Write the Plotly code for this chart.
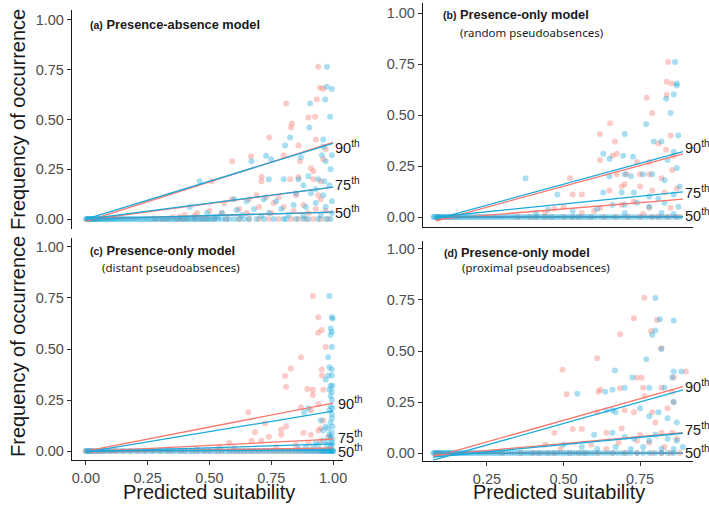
import plotly.graph_objects as go

# ---------------- data ----------------
RED = "#F8766D"
BLUE = "#1BA9DB"

# Panel (a) presence-absence model: (predicted suitability, frequency of occurrence)
a_red = [(0.94,0.765),(0.947,0.66),(0.96,0.655),(0.934,0.60),(0.81,0.58),(0.927,0.514),(0.833,0.48),
         (0.741,0.41),(0.93,0.40),(0.86,0.37),(0.592,0.29),(0.668,0.316),(0.80,0.32),(0.866,0.29),
         (0.97,0.35),(0.91,0.255),(0.92,0.24),(0.711,0.213),(0.71,0.19),(0.826,0.20),(0.86,0.21),
         (0.92,0.20),(0.95,0.19),(0.509,0.19),(0.69,0.12),(0.59,0.10),(0.66,0.10),(0.73,0.11),
         (0.78,0.11),(0.85,0.12),(0.94,0.12),(0.95,0.10),(0.56,0.08),(0.62,0.05),(0.70,0.06),
         (0.76,0.08),(0.80,0.06),(0.88,0.07),(0.93,0.05),(0.50,0.04),(0.45,0.03),(0.40,0.02),
         (0.55,0.03),(0.65,0.03),(0.75,0.03),(0.84,0.04),(0.90,0.03),(0.97,0.04),(0.38,0.01),
         (0.44,0.015),(0.35,0.01),(0.83,0.46),(0.90,0.51),(0.96,0.30)]
a_blue = [(0.975,0.765),(0.974,0.665),(0.995,0.653),(0.968,0.60),(0.907,0.58),(0.988,0.514),(0.904,0.46),
          (0.826,0.41),(0.96,0.40),(0.806,0.37),(0.96,0.365),(0.67,0.29),(0.729,0.318),(0.75,0.30),
          (0.87,0.31),(0.955,0.32),(0.995,0.32),(0.97,0.29),(0.99,0.25),(0.46,0.19),(0.74,0.20),
          (0.80,0.20),(0.86,0.20),(0.90,0.215),(0.94,0.20),(0.965,0.19),(0.985,0.17),(0.60,0.10),
          (0.65,0.09),(0.72,0.10),(0.77,0.09),(0.85,0.13),(0.91,0.13),(0.96,0.12),(0.995,0.09),
          (0.42,0.06),(0.49,0.03),(0.55,0.03),(0.61,0.045),(0.68,0.05),(0.74,0.03),(0.79,0.05),
          (0.84,0.07),(0.89,0.06),(0.93,0.08),(0.97,0.06),(0.995,0.03),(0.53,0.01),(0.63,0.02),
          (0.71,0.015),(0.82,0.02),(0.88,0.015),(0.95,0.02),(0.88,0.17),(0.93,0.15)]
a_red_zero_x = [0.01,0.03,0.28,0.31,0.33,0.37,0.39,0.41,0.44,0.47,0.49,0.52,0.57,0.62,0.66,0.70,0.74,
                0.78,0.83,0.86,0.89,0.92,0.95,0.98]
a_blue_zero_x = [0.0,0.004,0.008,0.012,0.016,0.02,0.024,0.028,0.032,0.036,0.04,0.045,0.05,0.055,0.06,
                 0.066,0.072,0.078,0.084,0.09,0.097,0.104,0.111,0.118,0.125,0.133,0.141,0.149,0.157,
                 0.165,0.174,0.183,0.192,0.201,0.21,0.22,0.23,0.24,0.25,0.26,0.27,0.28,0.29,0.30,0.31,
                 0.32,0.33,0.34,0.35,0.36,0.37,0.38,0.39,0.40,0.41,0.42,0.43,0.44,0.45,0.46,0.47,0.48,
                 0.49,0.50,0.51,0.52,0.535,0.55,0.565,0.58,0.60,0.62,0.64,0.66,0.69,0.72,0.76,0.80,
                 0.81,0.85,0.88,0.90,0.94,0.97,0.99]

# Panel (b) presence-only, random pseudoabsences
b_red = [(0.842,0.76),(0.837,0.663),(0.853,0.655),(0.837,0.598),(0.772,0.584),(0.79,0.51),(0.652,0.459),
         (0.619,0.407),(0.668,0.37),(0.85,0.40),(0.674,0.31),(0.619,0.28),(0.835,0.33),(0.521,0.19),
         (0.674,0.21),(0.706,0.21),(0.75,0.21),(0.78,0.21),(0.82,0.19),(0.855,0.23),(0.74,0.27),
         (0.78,0.27),(0.53,0.11),(0.50,0.05),(0.56,0.11),(0.65,0.13),(0.69,0.15),(0.75,0.15),
         (0.79,0.13),(0.83,0.12),(0.87,0.14),(0.44,0.02),(0.56,0.02),(0.62,0.045),(0.69,0.06),
         (0.73,0.075),(0.78,0.045),(0.85,0.045),(0.76,0.015),(0.66,0.30),(0.70,0.16),(0.81,0.36),
         (0.86,0.30),(0.60,0.03),(0.47,0.04)]
b_blue = [(0.864,0.76),(0.87,0.655),(0.87,0.645),(0.86,0.60),(0.835,0.58),(0.85,0.51),(0.77,0.455),
          (0.70,0.407),(0.875,0.40),(0.795,0.37),(0.82,0.37),(0.63,0.31),(0.65,0.285),(0.695,0.30),
          (0.727,0.295),(0.86,0.32),(0.376,0.19),(0.65,0.20),(0.70,0.21),(0.72,0.20),(0.76,0.21),
          (0.79,0.21),(0.83,0.18),(0.87,0.24),(0.48,0.11),(0.63,0.12),(0.69,0.12),(0.73,0.12),
          (0.78,0.10),(0.81,0.09),(0.86,0.11),(0.41,0.02),(0.45,0.035),(0.53,0.03),(0.61,0.04),
          (0.66,0.06),(0.70,0.06),(0.74,0.07),(0.78,0.05),(0.83,0.07),(0.875,0.05),(0.70,0.02),
          (0.82,0.02),(0.86,0.015),(0.88,0.15),(0.84,0.28)]
b_red_zero_x = [0.09,0.35,0.39,0.41,0.44,0.46,0.50,0.53,0.55,0.59,0.63,0.67,0.71,0.75,0.79,0.81,0.84,0.87]
b_blue_zero_x = [0.075,0.079,0.083,0.087,0.091,0.095,0.099,0.103,0.108,0.113,0.118,0.123,0.128,0.133,
                 0.139,0.145,0.151,0.157,0.163,0.17,0.177,0.184,0.191,0.198,0.206,0.214,0.222,0.23,
                 0.238,0.246,0.255,0.264,0.273,0.282,0.291,0.30,0.31,0.32,0.33,0.34,0.35,0.36,0.37,
                 0.38,0.39,0.40,0.41,0.42,0.43,0.44,0.45,0.46,0.47,0.48,0.49,0.50,0.51,0.52,0.53,0.54,
                 0.55,0.56,0.57,0.58,0.59,0.60,0.612,0.625,0.638,0.65,0.663,0.676,0.69,0.704,0.718,
                 0.732,0.746,0.76,0.775,0.79,0.805,0.82,0.835,0.85,0.865,0.88]

# Panel (c) presence-only, distant pseudoabsences
c_red = [(0.918,0.76),(0.94,0.655),(0.94,0.58),(0.954,0.593),(0.87,0.459),(0.829,0.405),(0.806,0.368),
         (0.81,0.315),(0.896,0.304),(0.918,0.30),(0.954,0.40),(0.955,0.37),(0.918,0.275),(0.87,0.214),
         (0.91,0.20),(0.94,0.23),(0.657,0.19),(0.684,0.092),(0.725,0.136),(0.79,0.106),(0.81,0.12),
         (0.79,0.08),(0.74,0.07),(0.71,0.05),(0.67,0.05),(0.88,0.09),(0.91,0.08),(0.94,0.10),
         (0.95,0.11),(0.96,0.15),(0.58,0.04),(0.54,0.02),(0.97,0.51),(0.96,0.30),(0.90,0.04),
         (0.85,0.03),(0.95,0.05),(0.98,0.07),(0.60,0.015),(0.45,0.01),(0.77,0.02)]
c_blue = [(0.985,0.76),(0.995,0.655),(0.998,0.65),(0.99,0.60),(0.995,0.585),(0.99,0.57),(0.995,0.51),
          (0.98,0.46),(0.985,0.41),(0.995,0.40),(0.98,0.37),(0.995,0.37),(0.99,0.32),(0.997,0.32),
          (0.985,0.30),(0.995,0.29),(0.995,0.25),(0.99,0.22),(0.997,0.21),(0.985,0.20),(0.883,0.19),
          (0.90,0.21),(0.95,0.15),(0.97,0.12),(0.96,0.10),(0.98,0.11),(0.995,0.16),(0.99,0.14),
          (0.997,0.12),(0.995,0.09),(0.99,0.07),(0.997,0.06),(0.98,0.05),(0.96,0.05),(0.94,0.03),
          (0.92,0.02),(0.995,0.03),(0.99,0.02),(0.997,0.04),(0.975,0.03),(0.985,0.08),(0.995,0.18),
          (0.99,0.27),(0.97,0.35),(0.93,0.04),(0.89,0.02),(0.86,0.01)]
c_red_zero_x = [0.0,0.02,0.03,0.05,0.07,0.1,0.12,0.15,0.18,0.21,0.24,0.27,0.30,0.33,0.35,0.38,0.40,
                0.43,0.45,0.48,0.50,0.53,0.55,0.58,0.60,0.62,0.64,0.66,0.68,0.70,0.72,0.74,0.76,0.78,
                0.80,0.82,0.84,0.86,0.88,0.90,0.92,0.94,0.96]
c_blue_zero_x = [0.0,0.005,0.01,0.015,0.02,0.03,0.04,0.05,0.06,0.07,0.08,0.09,0.1,0.115,0.13,0.145,
                 0.16,0.175,0.19,0.205,0.22,0.235,0.25,0.265,0.28,0.295,0.31,0.325,0.34,0.355,0.37,
                 0.385,0.4,0.415,0.43,0.445,0.46,0.475,0.49,0.505,0.52,0.535,0.55,0.565,0.58,0.595,
                 0.61,0.625,0.64,0.655,0.67,0.685,0.7,0.715,0.73,0.745,0.76,0.775,0.79,0.805,0.82,
                 0.835,0.85,0.865,0.88,0.89,0.9,0.91,0.92,0.93,0.94,0.95,0.955,0.96,0.965,0.97,0.975,
                 0.98,0.985,0.99,0.993,0.996,0.999,1.0]

# Panel (d) presence-only, proximal pseudoabsences
d_red = [(0.764,0.761),(0.805,0.652),(0.73,0.66),(0.786,0.598),(0.819,0.513),(0.685,0.582),(0.61,0.464),
         (0.497,0.408),(0.739,0.369),(0.755,0.369),(0.51,0.288),(0.614,0.30),(0.62,0.31),(0.685,0.317),
         (0.76,0.32),(0.765,0.28),(0.859,0.25),(0.855,0.30),(0.82,0.32),(0.73,0.20),(0.79,0.20),
         (0.61,0.20),(0.53,0.118),(0.47,0.10),(0.56,0.118),(0.64,0.10),(0.69,0.12),(0.75,0.09),
         (0.82,0.10),(0.855,0.10),(0.44,0.04),(0.49,0.02),(0.59,0.04),(0.68,0.05),(0.74,0.06),
         (0.78,0.05),(0.83,0.03),(0.87,0.07),(0.90,0.40),(0.86,0.37),(0.70,0.21),(0.64,0.02),
         (0.80,0.15),(0.84,0.22)]
d_blue = [(0.80,0.76),(0.815,0.655),(0.86,0.65),(0.79,0.58),(0.80,0.60),(0.82,0.51),(0.77,0.46),
          (0.668,0.405),(0.86,0.40),(0.885,0.40),(0.545,0.29),(0.636,0.30),(0.66,0.31),(0.70,0.32),
          (0.78,0.32),(0.83,0.32),(0.855,0.37),(0.725,0.37),(0.64,0.21),(0.66,0.21),(0.67,0.20),
          (0.78,0.18),(0.84,0.17),(0.87,0.15),(0.60,0.09),(0.66,0.10),(0.70,0.08),(0.73,0.07),
          (0.78,0.06),(0.80,0.09),(0.84,0.07),(0.87,0.06),(0.50,0.04),(0.56,0.03),(0.61,0.02),
          (0.67,0.03),(0.72,0.02),(0.76,0.03),(0.82,0.02),(0.86,0.02),(0.89,0.03),(0.75,0.22),
          (0.81,0.20),(0.86,0.25)]
d_red_zero_x = [0.09,0.3,0.36,0.40,0.42,0.45,0.47,0.52,0.55,0.57,0.61,0.66,0.70,0.74,0.79,0.82,0.85,0.88]
d_blue_zero_x = [0.075,0.079,0.083,0.087,0.091,0.095,0.099,0.103,0.108,0.113,0.118,0.123,0.128,0.133,
                 0.139,0.145,0.151,0.157,0.163,0.17,0.177,0.184,0.191,0.198,0.206,0.214,0.222,0.23,
                 0.238,0.246,0.255,0.264,0.273,0.282,0.291,0.30,0.31,0.32,0.33,0.34,0.35,0.36,0.37,
                 0.38,0.39,0.40,0.41,0.42,0.43,0.44,0.45,0.46,0.47,0.48,0.49,0.50,0.51,0.52,0.53,0.54,
                 0.55,0.56,0.57,0.58,0.59,0.60,0.615,0.63,0.645,0.66,0.675,0.69,0.705,0.72,0.74,0.76,
                 0.78,0.80,0.82,0.84,0.86]

# Quantile regression lines (90th, 75th, 50th): start/end y at line x-extent
quantiles = ["90", "75", "50"]
a_line_x = [0.0, 1.0]
a_red_start = [-0.012, -0.005, 0.0];  a_red_end = [0.385, 0.16, 0.035]
a_blue_start = [0.0, 0.0, 0.0];       a_blue_end = [0.38, 0.16, 0.035]
b_line_x = [0.083, 0.89]
b_red_start = [-0.02, -0.012, 0.0];   b_red_end = [0.31, 0.088, 0.003]
b_blue_start = [-0.01, 0.0, 0.0];     b_blue_end = [0.32, 0.123, 0.0]
c_line_x = [0.0, 1.0]
c_red_start = [0.0, -0.003, -0.005];  c_red_end = [0.235, 0.058, 0.015]
c_blue_start = [-0.005, -0.003, 0.0]; c_blue_end = [0.195, 0.035, 0.005]
d_line_x = [0.074, 0.89]
d_red_start = [-0.02, -0.012, 0.0];   d_red_end = [0.325, 0.10, 0.0]
d_blue_start = [-0.035, -0.02, 0.0];  d_blue_end = [0.31, 0.097, 0.0]

y_ticks = [0, 0.25, 0.5, 0.75, 1.0]
c_x_ticks = [0, 0.25, 0.5, 0.75, 1.0]
d_x_ticks = [0.25, 0.5, 0.75]

# ---------------- figure ----------------
W, H = 709, 513
def PX(p): return p / W
def PY(p): return 1 - p / H

fig = go.Figure()

panels = [
    ("x", "y", a_red, a_blue, a_red_zero_x, a_blue_zero_x, a_line_x,
     a_red_start, a_red_end, a_blue_start, a_blue_end),
    ("x2", "y2", b_red, b_blue, b_red_zero_x, b_blue_zero_x, b_line_x,
     b_red_start, b_red_end, b_blue_start, b_blue_end),
    ("x3", "y3", c_red, c_blue, c_red_zero_x, c_blue_zero_x, c_line_x,
     c_red_start, c_red_end, c_blue_start, c_blue_end),
    ("x4", "y4", d_red, d_blue, d_red_zero_x, d_blue_zero_x, d_line_x,
     d_red_start, d_red_end, d_blue_start, d_blue_end),
]

marker_common = dict(size=6, opacity=0.38, line=dict(width=0))
for (xa, ya, red, blue, rz, bz, lx, rs, re, bs, be) in panels:
    fig.add_trace(go.Scatter(x=[p[0] for p in red] + rz, y=[p[1] for p in red] + [0] * len(rz),
                             mode="markers", marker=dict(color=RED, **marker_common),
                             xaxis=xa, yaxis=ya, showlegend=False, hoverinfo="skip", cliponaxis=False))
    fig.add_trace(go.Scatter(x=[p[0] for p in blue] + bz, y=[p[1] for p in blue] + [0] * len(bz),
                             mode="markers", marker=dict(color=BLUE, **marker_common),
                             xaxis=xa, yaxis=ya, showlegend=False, hoverinfo="skip", cliponaxis=False))
    for i in range(len(quantiles)):
        fig.add_trace(go.Scatter(x=lx, y=[rs[i], re[i]], mode="lines",
                                 line=dict(color=RED, width=1.3), xaxis=xa, yaxis=ya,
                                 showlegend=False, hoverinfo="skip", cliponaxis=False))
    for i in range(len(quantiles)):
        fig.add_trace(go.Scatter(x=lx, y=[bs[i], be[i]], mode="lines",
                                 line=dict(color=BLUE, width=1.3), xaxis=xa, yaxis=ya,
                                 showlegend=False, hoverinfo="skip", cliponaxis=False))

tickfont = dict(family="Liberation Sans, Arial, sans-serif", size=14.5, color="#4D4D4D")
ax_common = dict(showgrid=False, zeroline=False, linecolor="#1a1a1a", linewidth=1.4, automargin=False,
                 tickcolor="#333333", ticklen=4, tickwidth=1.2, tickfont=tickfont)

xa_dom = [PX(72), PX(343)]
xb_dom = [PX(423), PX(693)]
fig.update_layout(
    template="none",
    width=W, height=H, margin=dict(l=0, r=0, t=0, b=0, pad=0, autoexpand=False),
    paper_bgcolor="white", plot_bgcolor="white",
    xaxis=dict(domain=xa_dom, range=[-0.056, 1.04], anchor="y", showline=False,
               showticklabels=False, ticks="", **ax_common),
    yaxis=dict(domain=[PY(229), PY(10)], range=[-0.05, 1.05], anchor="x", showline=True, ticks="outside",
               tickvals=y_ticks, tickformat=".2f", **ax_common),
    xaxis2=dict(domain=xb_dom, range=[0.041, 0.923], anchor="y2", showline=True,
                showticklabels=False, ticks="", **ax_common),
    yaxis2=dict(domain=[PY(227.2), PY(2.8)], range=[-0.05, 1.05], anchor="x2", showline=True,
                ticks="outside", tickvals=y_ticks, tickformat=".2f", **ax_common),
    xaxis3=dict(domain=xa_dom, range=[-0.056, 1.04], anchor="y3", showline=True, ticks="outside",
                tickvals=c_x_ticks, tickformat=".2f", **ax_common),
    yaxis3=dict(domain=[PY(460.2), PY(237.8)], range=[-0.045, 1.045], anchor="x3", showline=True,
                ticks="outside", tickvals=y_ticks, tickformat=".2f", **ax_common),
    xaxis4=dict(domain=xb_dom, range=[0.041, 0.923], anchor="y4", showline=True, ticks="outside",
                tickvals=d_x_ticks, tickformat=".2f", **ax_common),
    yaxis4=dict(domain=[PY(461.2), PY(240.8)], range=[-0.04, 1.04], anchor="x4", showline=True,
                ticks="outside", tickvals=y_ticks, tickformat=".2f", **ax_common),
)

ann = []
title_font = dict(family="Liberation Sans, Arial, sans-serif", size=12.8, color="#1a1a1a")
sub_font = dict(family="Noto Sans, sans-serif", size=11.5, color="#1a1a1a")
titles = [("(a)", "Presence-absence model", None, 88, 24, None),
          ("(b)", "Presence-only model", "(random pseudoabsences)", 441, 15, (458, 32)),
          ("(c)", "Presence-only model", "(distant pseudoabsences)", 88, 251, (100, 267)),
          ("(d)", "Presence-only model", "(proximal pseudoabsences)", 442, 252, (460, 267))]
for tag, main, sub, tx, ty, sp in titles:
    ann.append(dict(x=PX(tx), y=PY(ty), xref="paper", yref="paper", xanchor="left", yanchor="middle",
                    showarrow=False, font=title_font,
                    text=f"<b><span style='font-size:10.5px'>{tag}</span> {main}</b>"))
    if sub:
        ann.append(dict(x=PX(sp[0]), y=PY(sp[1]), xref="paper", yref="paper", xanchor="left",
                        yanchor="middle", showarrow=False, font=sub_font, text=sub))

# quantile labels (pixel positions of labels)
lab_font = dict(family="Liberation Sans, Arial, sans-serif", size=14.5, color="#1a1a1a")
label_pos = [(333, [147, 184, 212]), (683, [147, 192, 215]), (336, [403, 437, 451]), (683, [386, 429, 452])]
for (lxp, ys) in label_pos:
    for q, yp in zip(quantiles, ys):
        ann.append(dict(x=PX(lxp), y=PY(yp), xref="paper", yref="paper", xanchor="left", yanchor="middle",
                        showarrow=False, font=lab_font, text=f"{q}<sup>th</sup>"))

axis_title_font = dict(family="Liberation Sans, Arial, sans-serif", size=20, color="#1a1a1a")
for yc in (120, 347):
    ann.append(dict(x=PX(18), y=PY(yc), xref="paper", yref="paper", xanchor="center", yanchor="middle",
                    showarrow=False, textangle=-90, font=axis_title_font, text="Frequency of occurrence"))
for xc in (208.5, 558.5):
    ann.append(dict(x=PX(xc), y=PY(492), xref="paper", yref="paper", xanchor="center", yanchor="middle",
                    showarrow=False, font=axis_title_font, text="Predicted suitability"))

fig.update_layout(annotations=ann)
fig.write_html("out.html", config={"displayModeBar": False},
               post_script="document.body.style.margin='0';document.body.style.padding='0';")
